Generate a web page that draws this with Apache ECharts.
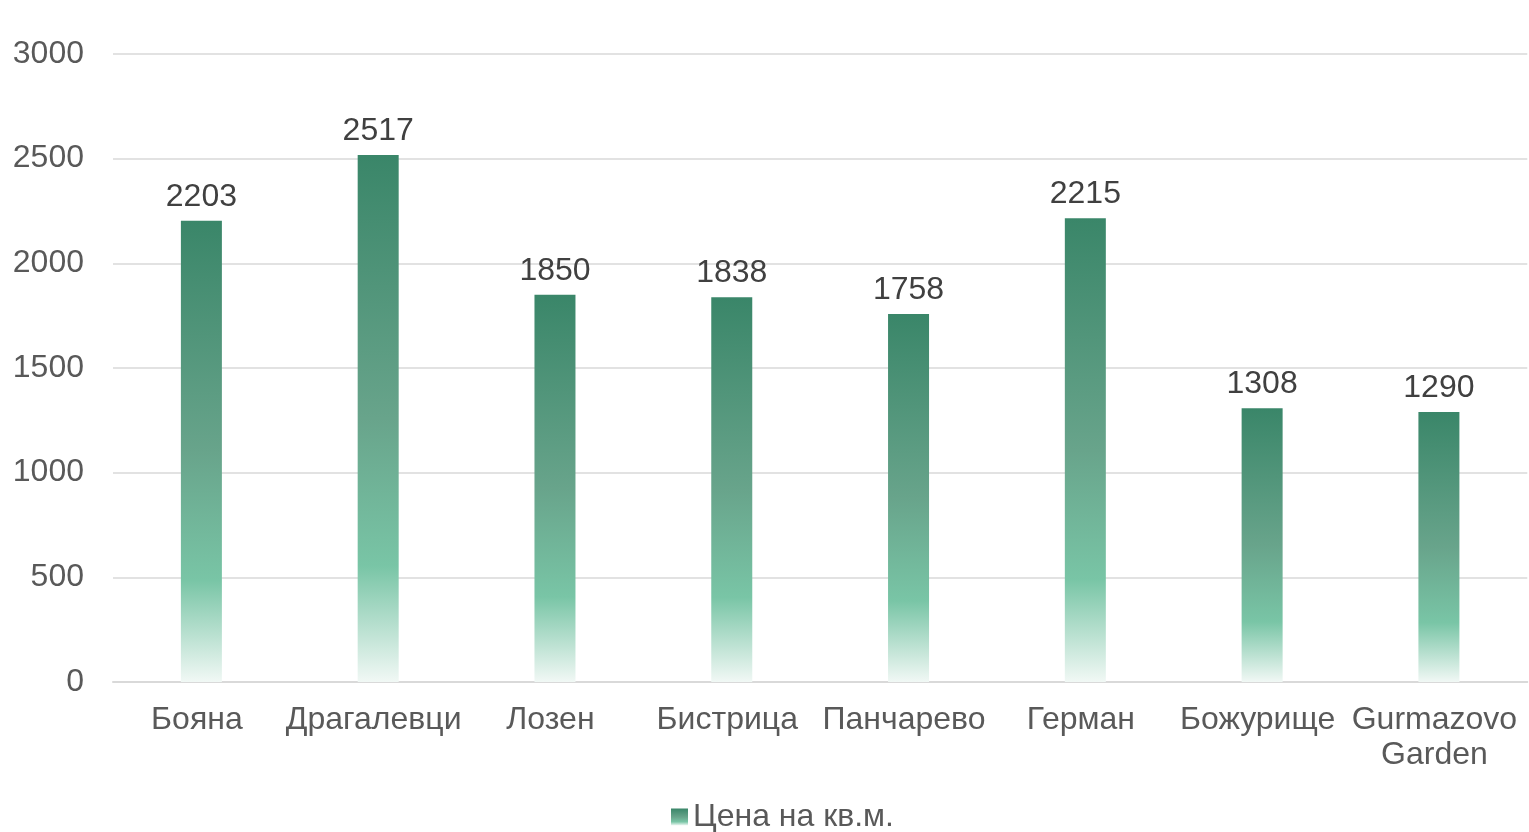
<!DOCTYPE html>
<html>
<head>
<meta charset="utf-8">
<style>
  html, body { margin: 0; padding: 0; background: #fff; }
  #chart { width: 1529px; height: 832px; }
</style>
<script src="https://cdn.jsdelivr.net/npm/echarts@6/dist/echarts.min.js"></script>
</head>
<body>
<div id="chart"></div>
<script>
const categories = ['Бояна', 'Драгалевци', 'Лозен', 'Бистрица', 'Панчарево', 'Герман', 'Божурище', 'Gurmazovo\nGarden'];
const prices = [2203, 2517, 1850, 1838, 1758, 2215, 1308, 1290];
const seriesName = 'Цена на кв.м.';

const font = '"Liberation Sans", Arial, sans-serif';

// Excel-like vertical fade, top dark green to almost white at the base
const barFill = new echarts.graphic.LinearGradient(0, 0, 0, 1, [
  { offset: 0, color: '#3a8669' },
  { offset: 0.5, color: '#68a48b' },
  { offset: 0.78, color: '#79c5a6' },
  { offset: 1, color: '#f1f8f5' }
]);

const chart = echarts.init(document.getElementById('chart'), null, { renderer: 'canvas' });

chart.setOption({
  animation: false,
  textStyle: { fontFamily: font },
  grid: { left: 113, right: 0, top: 54, bottom: 150, containLabel: false },
  legend: {
    data: [seriesName],
    bottom: -6,
    left: 666,
    itemWidth: 17,
    itemHeight: 17,
    itemGap: 4,
    icon: 'rect',
    textStyle: { fontSize: 32, color: '#595959', fontFamily: font }
  },
  xAxis: {
    type: 'category',
    data: categories,
    axisLine: { lineStyle: { color: '#d9d9d9', width: 2 } },
    axisTick: { show: false },
    axisLabel: {
      fontSize: 32, color: '#595959', margin: 21, lineHeight: 35, interval: 0,
      padding: [0, 9, 0, 0], fontFamily: font
    }
  },
  yAxis: {
    type: 'value',
    min: 0,
    max: 3000,
    interval: 500,
    axisLine: { show: false },
    axisTick: { show: false },
    axisLabel: { fontSize: 32, color: '#595959', margin: 29, fontFamily: font, formatter: v => String(v) },
    splitLine: { lineStyle: { color: '#d9d9d9', width: 1.5 } }
  },
  series: [{
    name: seriesName,
    type: 'bar',
    data: prices,
    barWidth: 41,
    itemStyle: { color: barFill },
    label: {
      show: true,
      position: 'top',
      distance: 8,
      fontSize: 32,
      color: '#404040',
      fontFamily: font
    }
  }]
});
</script>
</body>
</html>
